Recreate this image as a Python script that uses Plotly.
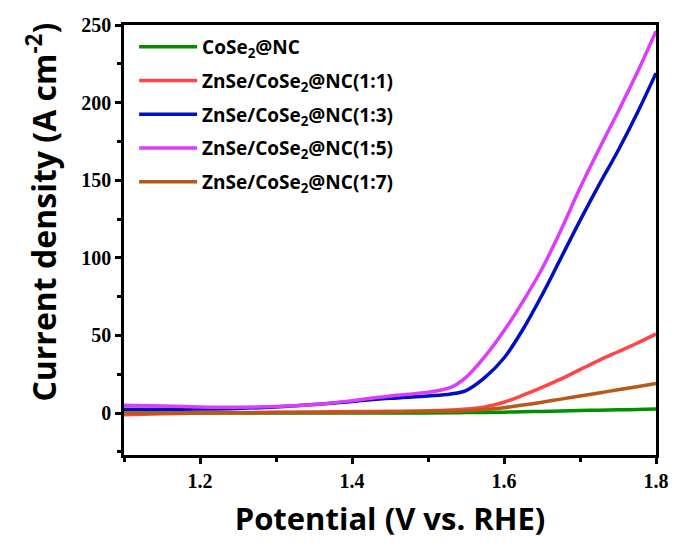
import plotly.graph_objects as go

# Potential (V vs. RHE) and current density (A cm^-2)
v_common = [1.10, 1.15, 1.20, 1.25, 1.30, 1.35, 1.40, 1.45, 1.50, 1.53, 1.55,
            1.575, 1.60, 1.625, 1.65, 1.675, 1.70, 1.725, 1.75, 1.775, 1.80]

j_cose2 = [0.0, 0.0, 0.0, 0.0, 0.0, 0.0, 0.0, 0.0, 0.1, 0.2, 0.3,
           0.4, 0.6, 0.9, 1.1, 1.4, 1.6, 1.9, 2.1, 2.3, 2.6]
j_11 = [-1.0, -0.5, 0.0, 0.2, 0.5, 0.7, 1.0, 1.2, 1.5, 2.0, 2.6,
        4.0, 7.0, 11.5, 16.5, 22.0, 28.0, 34.0, 39.5, 45.0, 51.0]
j_13 = [2.5, 2.5, 2.6, 3.0, 4.0, 5.5, 7.5, 9.5, 11.0, 12.3, 14.5,
        23.0, 35.5, 54.0, 76.0, 100.0, 124.0, 147.0, 169.0, 193.0, 219.0]
j_15 = [5.0, 4.6, 4.0, 3.8, 4.2, 5.5, 8.0, 11.0, 13.5, 16.5, 23.0,
        36.5, 53.0, 72.0, 93.0, 118.0, 145.0, 170.0, 194.0, 219.0, 246.0]
j_17 = [0.0, 0.0, 0.1, 0.2, 0.3, 0.4, 0.5, 0.7, 1.0, 1.2, 1.5,
        2.3, 3.5, 5.2, 7.0, 9.0, 11.0, 13.0, 15.0, 17.0, 19.0]

names = ["CoSe<sub>2</sub>@NC", "ZnSe/CoSe<sub>2</sub>@NC(1:1)",
         "ZnSe/CoSe<sub>2</sub>@NC(1:3)", "ZnSe/CoSe<sub>2</sub>@NC(1:5)",
         "ZnSe/CoSe<sub>2</sub>@NC(1:7)"]
series = [j_cose2, j_11, j_13, j_15, j_17]
colors = ["#009000", "#FF4545", "#0010C0", "#DD3CFF", "#B55A18"]

x_ticks = [1.2, 1.4, 1.6, 1.8]
y_ticks = [0, 50, 100, 150, 200, 250]

y_title = "Current density (A cm<sup>-2</sup>)"
x_title = "Potential (V vs. RHE)"

fig = go.Figure()
for i, (nm, ys, c) in enumerate(zip(names, series, colors)):
    fig.add_trace(go.Scatter(x=v_common, y=ys, mode="lines", name=nm,
                             legendgroup=f"g{i}", legendrank=i + 1,
                             line=dict(color=c, width=3.5, shape="spline", smoothing=1.0)))

axis_common = dict(
    showgrid=False, zeroline=False, showline=True, linecolor="black", linewidth=2.5,
    mirror=True, ticks="outside", ticklen=6, tickwidth=2.5, tickcolor="black",
)

fig.update_xaxes(range=[1.1, 1.8], tickvals=x_ticks, ticktext=[f"{t:.1f}" for t in x_ticks],
                 minor=dict(dtick=0.1, tick0=1.1, ticks="outside", ticklen=4, tickwidth=2.5,
                            tickcolor="black"),
                 title=dict(text=x_title, standoff=18,
                            font=dict(family="Open Sans", size=31, color="black", weight="bold")),
                 **axis_common)
fig.update_yaxes(range=[-27, 250], tickvals=y_ticks,
                 minor=dict(dtick=25, tick0=0, ticks="outside", ticklen=4, tickwidth=2.5,
                            tickcolor="black"),
                 **axis_common)
fig.update_xaxes(tickfont_family="Liberation Serif", tickfont_size=20,
                 tickfont_color="black", tickfont_weight="bold")
fig.update_yaxes(tickfont_family="Liberation Serif", tickfont_size=20,
                 tickfont_color="black", tickfont_weight="bold")

fig.add_annotation(text=y_title, xref="paper", yref="paper", x=-0.155, y=0.565,
                   xanchor="center", yanchor="middle", textangle=-90, showarrow=False,
                   font=dict(family="Open Sans", size=32, color="black", weight="bold"))

fig.update_layout(
    width=681, height=543,
    margin=dict(l=124, r=19, t=25, b=84),
    plot_bgcolor="white", paper_bgcolor="white",
    legend=dict(x=0.019, y=0.993, xanchor="left", yanchor="top",
                bgcolor="rgba(0,0,0,0)", tracegroupgap=6, itemwidth=58,
                font=dict(family="Open Sans", size=19, color="black", weight="bold"),
                traceorder="grouped"),
    showlegend=True,
)

fig.write_html("out.html", config={"displayModeBar": False},
               post_script="document.body.style.margin='0';document.body.style.padding='0';")
